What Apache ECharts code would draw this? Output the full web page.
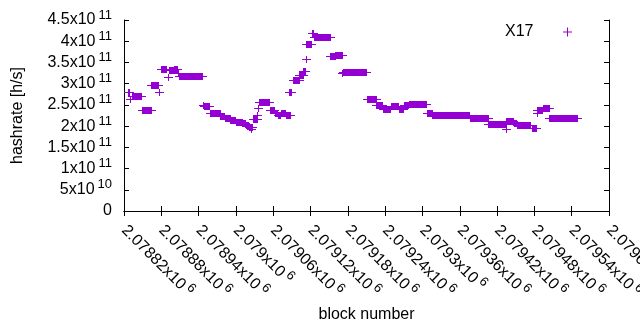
<!DOCTYPE html>
<html><head><meta charset="utf-8">
<script src="https://cdn.jsdelivr.net/npm/echarts@6/dist/echarts.min.js"></script>
<style>html,body{margin:0;padding:0;background:#fff}#c{width:640px;height:330px}</style>
</head><body><div id="c"></div>
<script>
// Series name
const seriesName = 'X17';
// Runs of equal hashrate: first block, last block, hashrate [h/s]
const segStart = [2078826,2078830,2078833,2078849,2078864,2078877,2078880,2078890,2078892,2078901,2078907,2078909,2078947,2078948,2078958,2078975,2078982,2078991,2079000,2079010,2079016,2079021,2079025,2079028,2079034,2079036,2079037,2079054,2079063,2079067,2079072,2079080,2079086,2079091,2079102,2079108,2079112,2079113,2079122,2079126,2079152,2079160,2079170,2079172,2079210,2079226,2079236,2079249,2079262,2079270,2079278,2079307,2079316,2079360,2079376,2079406,2079434,2079435,2079447,2079452,2079476,2079484,2079485,2079494,2079504];
const segEnd   = [2078828,2078830,2078848,2078863,2078874,2078877,2078888,2078890,2078900,2078906,2078907,2078945,2078947,2078957,2078974,2078981,2078990,2078999,2079009,2079015,2079020,2079026,2079025,2079034,2079034,2079036,2079053,2079062,2079066,2079071,2079079,2079087,2079089,2079101,2079108,2079111,2079112,2079121,2079124,2079151,2079159,2079170,2079170,2079209,2079225,2079235,2079248,2079261,2079269,2079277,2079306,2079315,2079359,2079375,2079405,2079434,2079434,2079446,2079451,2079473,2079483,2079484,2079493,2079503,2079548];
const segValue = [2.81e11,2.64e11,2.72e11,2.37e11,2.98e11,2.80e11,3.34e11,3.15e11,3.32e11,3.35e11,3.25e11,3.17e11,2.50e11,2.47e11,2.30e11,2.25e11,2.20e11,2.14e11,2.10e11,2.07e11,2.02e11,1.97e11,1.93e11,2.16e11,2.26e11,2.43e11,2.56e11,2.37e11,2.30e11,2.26e11,2.30e11,2.26e11,2.81e11,3.08e11,3.20e11,3.29e11,3.57e11,3.93e11,4.19e11,4.09e11,3.65e11,3.67e11,3.26e11,3.27e11,2.63e11,2.49e11,2.41e11,2.47e11,2.40e11,2.49e11,2.51e11,2.30e11,2.27e11,2.26e11,2.20e11,2.04e11,1.93e11,2.12e11,2.07e11,2.02e11,1.95e11,2.32e11,2.37e11,2.42e11,2.18e11];
// Axis ranges / tick steps
const xMin = 2078820, xMax = 2079600, xStep = 60;
const yMin = 0, yMax = 4.5e11, yStep = 5e10;
const xTitle = 'block number';
const yTitle = 'hashrate [h/s]';

const color = '#9400D3';
const font = '"Liberation Sans", Arial, sans-serif';
function sci(v) {
  if (v === 0) return '0';
  const e = Math.floor(Math.log10(Math.abs(v)) + 1e-9);
  const m = parseFloat((v / Math.pow(10, e)).toPrecision(6));
  return m + 'x10{s|' + e + '}';
}
const rich = { s: { fontSize: 13, fontFamily: font, color: '#000', padding: [0, 0, 10, 3] } };

const data = segStart.map((s, i) => [s, segEnd[i], segValue[i]]);

const chart = echarts.init(document.getElementById('c'), null, { renderer: 'canvas' });
const tickStyle = { show: true, inside: true, length: 5, lineStyle: { color: '#000', width: 1 } };
const lineStyle = { show: true, lineStyle: { color: '#000', width: 1 } };
chart.setOption({
  animation: false,
  backgroundColor: '#fff',
  textStyle: { fontFamily: font },
  grid: { left: 124, right: 31, top: 20, bottom: 119, containLabel: false, outerBoundsMode: 'none' },
  legend: {
    data: [{ name: seriesName, icon: 'path://M4,0L5,0L5,9L4,9Z M0,4L9,4L9,5L0,5Z' }],
    right: 68, top: 24, align: 'right', padding: 0,
    itemWidth: 58, itemHeight: 9,
    textStyle: { fontSize: 16, color: '#000', fontFamily: font }
  },
  xAxis: [{
    type: 'value', min: xMin, max: xMax, interval: xStep,
    name: xTitle, nameLocation: 'middle', nameGap: 96,
    nameTextStyle: { fontSize: 16, color: '#000', fontFamily: font },
    axisLine: lineStyle, axisTick: tickStyle, splitLine: { show: false },
    axisLabel: { rotate: -45, margin: 17, fontSize: 16, color: '#000', fontFamily: font,
      formatter: sci, rich: rich, showMinLabel: true, showMaxLabel: true, hideOverlap: false }
  }, {
    type: 'value', min: xMin, max: xMax, interval: xStep, position: 'top',
    axisLine: lineStyle, axisTick: tickStyle, splitLine: { show: false }, axisLabel: { show: false }
  }],
  yAxis: [{
    type: 'value', min: yMin, max: yMax, interval: yStep,
    name: yTitle, nameLocation: 'middle', nameGap: 98,
    nameTextStyle: { fontSize: 16, color: '#000', fontFamily: font },
    axisLine: lineStyle, axisTick: tickStyle, splitLine: { show: false },
    axisLabel: { margin: 12, fontSize: 16, color: '#000', fontFamily: font, formatter: sci, rich: rich }
  }, {
    type: 'value', min: yMin, max: yMax, interval: yStep, position: 'right',
    axisLine: lineStyle, axisTick: tickStyle, splitLine: { show: false }, axisLabel: { show: false }
  }],
  series: [{
    name: seriesName, type: 'custom', xAxisIndex: 0, yAxisIndex: 0,
    itemStyle: { color: color },
    encode: { x: [0, 1], y: 2 },
    data: data,
    renderItem: function (params, api) {
      const s = api.value(0), e = api.value(1), v = api.value(2);
      const p1 = api.coord([s, v]), p2 = api.coord([e, v]);
      const x1 = Math.round(p1[0]), x2 = Math.round(p2[0]), y = Math.round(p1[1]);
      return { type: 'group', children: [
        { type: 'rect', shape: { x: x1, y: y - 3, width: x2 - x1 + 1, height: 7 }, style: { fill: color } },
        { type: 'rect', shape: { x: x1 - 4, y: y, width: x2 - x1 + 9, height: 1 }, style: { fill: color } }
      ] };
    }
  }]
});
</script></body></html>
